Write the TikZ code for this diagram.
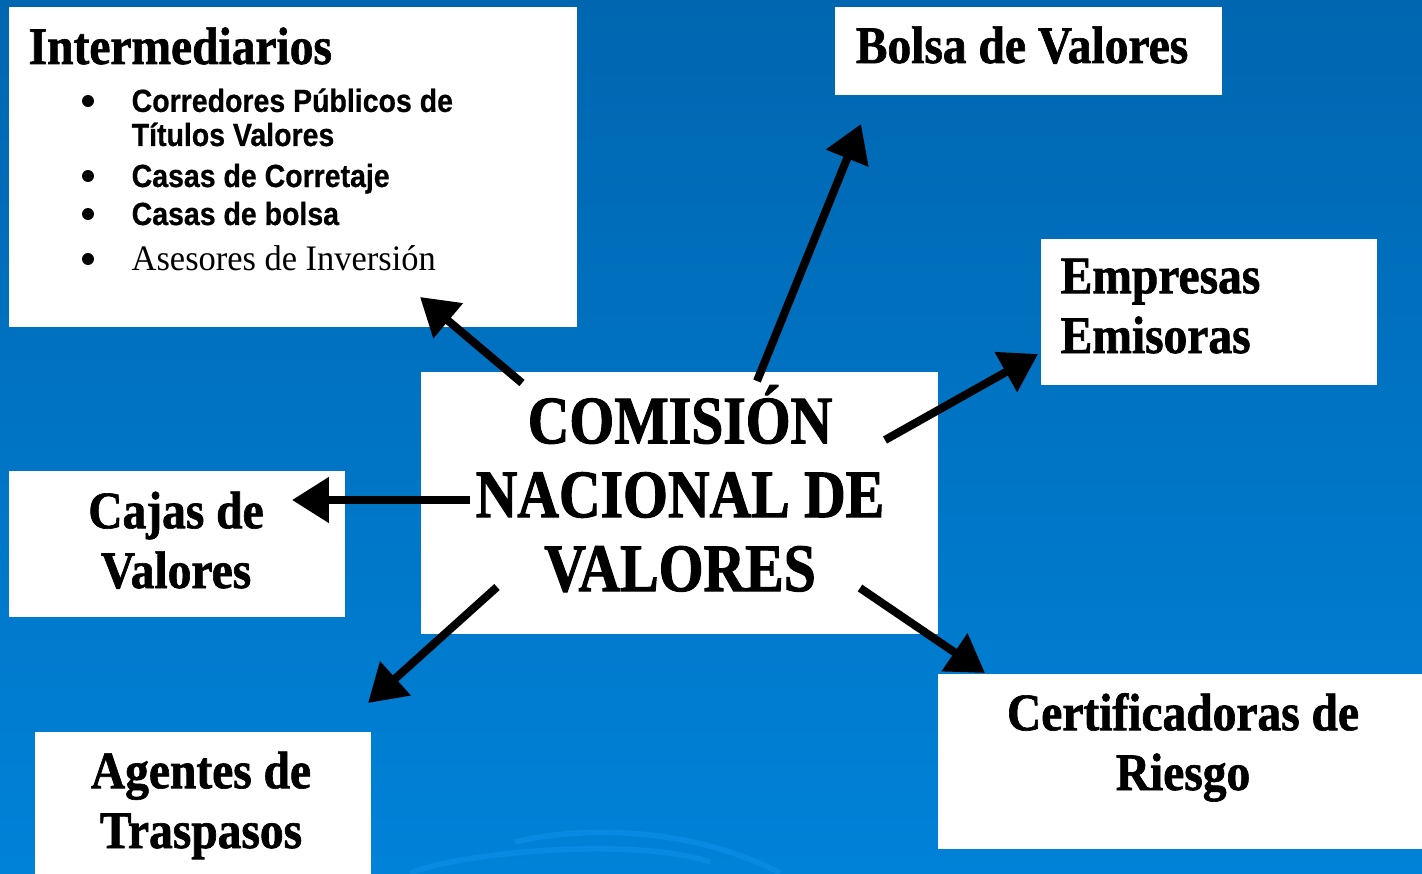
\documentclass[tikz,border=0pt]{standalone}
\usepackage{fontspec}
\setmainfont{Liberation Serif}
\newfontfamily\cajafont{Liberation Serif}[FakeStretch=0.9, FakeBold=1.2]
\newfontfamily\cnvfont{Liberation Serif}[FakeStretch=0.85, FakeBold=1.5]
\newfontfamily\listafont{Liberation Sans}[FakeStretch=0.89, FakeBold=0.6]
\newfontfamily\asesorfont{Liberation Serif}[FakeStretch=0.96]
\usetikzlibrary{arrows.meta}

\definecolor{fondoarriba}{RGB}{0,102,176}
\definecolor{fondoabajo}{RGB}{0,130,216}
\definecolor{arco}{RGB}{8,138,226}

\tikzset{
  caja/.style={fill=white, draw=none, anchor=north west, inner sep=0pt},
  titulo/.style={font=\cajafont\bfseries\fontsize{15}{17}\selectfont, align=center, anchor=base, inner sep=0pt},
  centro/.style={font=\cnvfont\bfseries\fontsize{19.3}{21}\selectfont, align=center, anchor=base, inner sep=0pt},
  lista/.style={font=\listafont\bfseries\fontsize{9.1}{9.7}\selectfont, align=left, anchor=base west, inner sep=0pt},
  asesor/.style={font=\asesorfont\fontsize{10.2}{11}\selectfont, anchor=base west, inner sep=0pt},
  flecha/.style={line width=2.3pt, -{Triangle[length=10.5pt,width=12.5pt]}},
}

\begin{document}
\begin{tikzpicture}[x=0.01cm,y=-0.01cm]
\useasboundingbox (0,0) rectangle (1422,873);
\clip (0,0) rectangle (1422,873);
\shade[top color=fondoarriba, bottom color=fondoabajo] (0,0) rectangle (1422,873);
% arcos del fondo
\draw[arco, line width=1.6pt] (515,842) .. controls (580,826) and (690,826) .. (780,873);
\draw[arco, line width=1.6pt] (410,873) .. controls (470,850) and (640,838) .. (710,862);

% cajas
\node[caja, minimum width=5.68cm, minimum height=3.2cm] (inter) at (8,6) {};
\node[caja, minimum width=3.87cm, minimum height=0.88cm] (bolsa) at (834,6) {};
\node[caja, minimum width=3.36cm, minimum height=1.46cm] (empresas) at (1040,238) {};
\node[caja, minimum width=5.17cm, minimum height=2.62cm] (cnv) at (420,371) {};
\node[caja, minimum width=3.36cm, minimum height=1.46cm] (cajas) at (8,470) {};
\node[caja, minimum width=3.36cm, minimum height=1.6cm] (agentes) at (34,731) {};
\node[caja, minimum width=4.9cm, minimum height=1.75cm] (certif) at (937,673) {};

% textos (anchor base = ultima linea)
\node[titulo, anchor=base west] (t-inter) at (28,64) {Intermediarios};
\node[lista] (l-corredores) at (131,146) {Corredores Públicos de\\Títulos Valores};
\node[lista] (l-corretaje) at (131,187) {Casas de Corretaje};
\node[lista] (l-bolsa) at (131,225) {Casas de bolsa};
\node[asesor] (l-asesores) at (131,270) {Asesores de Inversión};
\foreach \y in {101,176,214,259}
  \fill (88,\y) circle (1.7pt);
\node[titulo] (t-bolsa) at (1022,63) {Bolsa de Valores};
\node[titulo, align=left, anchor=base west] (t-empresas) at (1060,353) {Empresas\\Emisoras};
\node[centro] (t-cnv) at (680,591) {COMISIÓN\\NACIONAL DE\\VALORES};
\node[titulo] (t-cajas) at (176,588) {Cajas de\\Valores};
\node[titulo] (t-agentes) at (201,848) {Agentes de\\Traspasos};
\node[titulo] (t-certif) at (1183,790) {Certificadoras de\\Riesgo};

% flechas
\coordinate (sale-inter) at (522,383);    \coordinate (llega-inter) at (420,297);
\coordinate (sale-bolsa) at (757,381);    \coordinate (llega-bolsa) at (861,124);
\coordinate (sale-empresas) at (885,440); \coordinate (llega-empresas) at (1038,354);
\coordinate (sale-cajas) at (470,500);    \coordinate (llega-cajas) at (292,500);
\coordinate (sale-agentes) at (497,587);  \coordinate (llega-agentes) at (368,703);
\coordinate (sale-certif) at (860,588);   \coordinate (llega-certif) at (985,673);
\foreach \n in {inter,bolsa,empresas,cajas,agentes,certif}
  \draw[flecha] (sale-\n) -- (llega-\n);
\end{tikzpicture}
\end{document}
